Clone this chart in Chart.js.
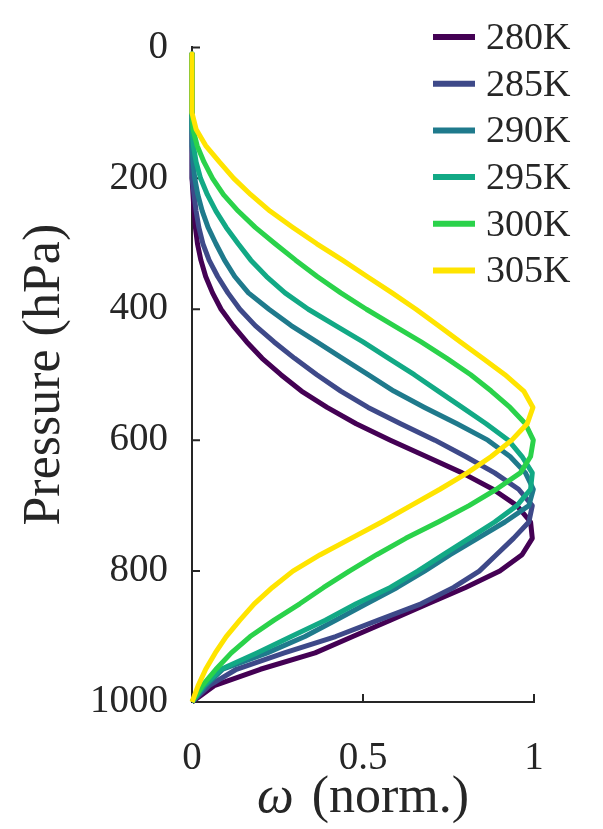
<!DOCTYPE html>
<html>
<head>
<meta charset="utf-8">
<script src="https://cdn.jsdelivr.net/npm/chart.js@4.4.1/dist/chart.umd.min.js"></script>
<style>
  html, body { margin: 0; padding: 0; background: #fff; }
  #wrap { width: 603px; height: 829px; position: relative; }
</style>
</head>
<body>
<div id="wrap"><canvas id="chart"></canvas></div>
<script>
// pressure levels (hPa), shared by all profiles
const pressure = [10, 25, 50, 75, 100, 125, 150, 175, 200, 225, 250, 275, 300, 325, 350, 375, 400,
  425, 450, 475, 500, 525, 550, 575, 600, 625, 650, 675, 700, 725, 750, 775, 800,
  825, 850, 875, 900, 925, 950, 975, 1000];

const temps = ['280K', '285K', '290K', '295K', '300K', '305K'];
const colors = ['#440154', '#3e4989', '#1f7a8c', '#12a985', '#2ad24a', '#ffe400'];

// normalised omega, one value per pressure level
const omega280 = [0, 0, 0, 0, 0, 0, 0, 0, 0.001, 0.003, 0.006, 0.01, 0.016, 0.026, 0.04, 0.06, 0.085,
  0.12, 0.16, 0.205, 0.26, 0.32, 0.395, 0.48, 0.58, 0.685, 0.79, 0.88, 0.95, 0.99, 0.995, 0.965, 0.9,
  0.8, 0.69, 0.58, 0.47, 0.36, 0.2, 0.065, 0];
const omega285 = [0, 0, 0, 0, 0, 0, 0, 0, 0.002, 0.006, 0.012, 0.02, 0.032, 0.05, 0.075, 0.105, 0.14,
  0.185, 0.24, 0.3, 0.365, 0.435, 0.515, 0.61, 0.71, 0.8, 0.885, 0.955, 0.995, 0.985, 0.94, 0.89, 0.84,
  0.765, 0.67, 0.545, 0.42, 0.27, 0.13, 0.05, 0];
const omega290 = [0, 0, 0, 0, 0, 0, 0, 0.003, 0.008, 0.017, 0.03, 0.047, 0.07, 0.095, 0.125, 0.165, 0.225,
  0.29, 0.365, 0.44, 0.515, 0.59, 0.68, 0.775, 0.865, 0.93, 0.975, 0.998, 0.985, 0.915, 0.835, 0.755, 0.68,
  0.6, 0.51, 0.42, 0.33, 0.22, 0.09, 0.04, 0];
const omega295 = [0, 0, 0, 0, 0, 0, 0.004, 0.012, 0.025, 0.045, 0.07, 0.1, 0.135, 0.172, 0.218, 0.272, 0.34,
  0.42, 0.5, 0.575, 0.65, 0.72, 0.79, 0.86, 0.925, 0.965, 0.995, 0.99, 0.95, 0.885, 0.81, 0.735, 0.66,
  0.58, 0.48, 0.39, 0.29, 0.19, 0.085, 0.035, 0];
const omega300 = [0, 0, 0, 0, 0, 0.003, 0.015, 0.035, 0.06, 0.092, 0.135, 0.185, 0.243, 0.303, 0.366, 0.435, 0.51,
  0.59, 0.67, 0.745, 0.815, 0.875, 0.93, 0.975, 0.998, 0.99, 0.96, 0.89, 0.81, 0.72, 0.625, 0.54, 0.46,
  0.385, 0.315, 0.24, 0.17, 0.115, 0.07, 0.03, 0];
const omega305 = [0, 0, 0, 0, 0, 0.012, 0.04, 0.08, 0.122, 0.172, 0.228, 0.295, 0.365, 0.44, 0.512, 0.585, 0.655,
  0.72, 0.785, 0.85, 0.915, 0.97, 0.997, 0.98, 0.935, 0.875, 0.805, 0.725, 0.64, 0.555, 0.465, 0.375, 0.295,
  0.235, 0.182, 0.14, 0.1, 0.068, 0.04, 0.018, 0];

const profiles = [omega280, omega285, omega290, omega295, omega300, omega305];

const yTicks = [0, 200, 400, 600, 800, 1000];
const xTicks = [0, 0.5, 1];

const FONT = '"Liberation Serif", "DejaVu Serif", serif';
const INK = '#262626';

// inward tick marks, like the original
const inwardTicks = {
  id: 'inwardTicks',
  beforeDatasetsDraw(chart) {
    const { ctx, chartArea, scales } = chart;
    ctx.save();
    ctx.strokeStyle = INK;
    ctx.lineWidth = 2;
    ctx.beginPath();
    yTicks.forEach(v => {
      const y = scales.y.getPixelForValue(v);
      ctx.moveTo(chartArea.left, y);
      ctx.lineTo(chartArea.left + 8, y);
    });
    xTicks.forEach(v => {
      const x = scales.x.getPixelForValue(v);
      ctx.moveTo(x, chartArea.bottom);
      ctx.lineTo(x, chartArea.bottom - 8);
    });
    ctx.stroke();
    ctx.restore();
  }
};

// legend in the top right corner + x title with italic omega
const extras = {
  id: 'extras',
  afterDraw(chart) {
    const ctx = chart.ctx;
    ctx.save();
    ctx.font = '38px ' + FONT;
    ctx.textBaseline = 'middle';
    chart.data.datasets.forEach((ds, i) => {
      const y = 37 + i * 46.7;
      ctx.strokeStyle = ds.borderColor;
      ctx.lineWidth = 6;
      ctx.beginPath();
      ctx.moveTo(433, y);
      ctx.lineTo(475, y);
      ctx.stroke();
      ctx.fillStyle = INK;
      ctx.fillText(ds.label, 486, y + 2);
    });

    // x axis title
    const { chartArea } = chart;
    const cx = (chartArea.left + chartArea.right) / 2;
    const omegaFont = 'italic 52px ' + FONT;
    const restFont = '52px ' + FONT;
    const rest = '(norm.)';
    ctx.font = omegaFont;
    const wOmega = ctx.measureText('ω').width;
    ctx.font = restFont;
    const wRest = ctx.measureText(rest).width;
    const gap = 18;
    let x = cx - (wOmega + gap + wRest) / 2;
    ctx.textBaseline = 'alphabetic';
    ctx.textAlign = 'left';
    ctx.fillStyle = INK;
    ctx.font = omegaFont;
    ctx.fillText('ω', x, 812);
    ctx.font = restFont;
    ctx.fillText(rest, x + wOmega + gap, 812);
    ctx.restore();
  }
};

new Chart(document.getElementById('chart'), {
  type: 'line',
  data: {
    datasets: profiles.map((w, i) => ({
      label: temps[i],
      data: w.map((v, j) => ({ x: v, y: pressure[j] })),
      borderColor: colors[i],
      backgroundColor: colors[i],
      borderWidth: 5,
      pointRadius: 0,
      fill: false,
      tension: 0,
      clip: false,
      borderJoinStyle: 'round',
      order: profiles.length - 1 - i // warmest profile drawn on top
    }))
  },
  options: {
    responsive: true,
    maintainAspectRatio: false,
    animation: false,
    layout: { padding: { top: 46, right: 69, left: 0, bottom: 0 } },
    plugins: {
      legend: { display: false },
      tooltip: { enabled: false }
    },
    scales: {
      x: {
        type: 'linear',
        min: 0,
        max: 1,
        afterBuildTicks: s => { s.ticks = xTicks.map(v => ({ value: v })); },
        afterFit: s => { s.height = 127; },
        grid: { display: false, drawTicks: false },
        border: { display: true, color: INK, width: 2 },
        ticks: {
          font: { family: FONT, size: 39 }, color: INK, padding: 33, maxRotation: 0,
          callback: v => String(v)
        },
        title: { display: false }
      },
      y: {
        type: 'linear',
        reverse: true,
        min: 0,
        max: 1000,
        afterBuildTicks: s => { s.ticks = yTicks.map(v => ({ value: v })); },
        afterFit: s => { s.width = 192; },
        grid: { display: false, drawTicks: false },
        border: { display: true, color: INK, width: 2 },
        ticks: {
          font: { family: FONT, size: 39 }, color: INK, padding: 24,
          callback: v => String(v)
        },
        title: {
          display: true,
          text: 'Pressure (hPa)',
          font: { family: FONT, size: 52 },
          color: INK,
          padding: { top: 14, bottom: 0 }
        }
      }
    }
  },
  plugins: [inwardTicks, extras]
});
</script>
</body>
</html>
